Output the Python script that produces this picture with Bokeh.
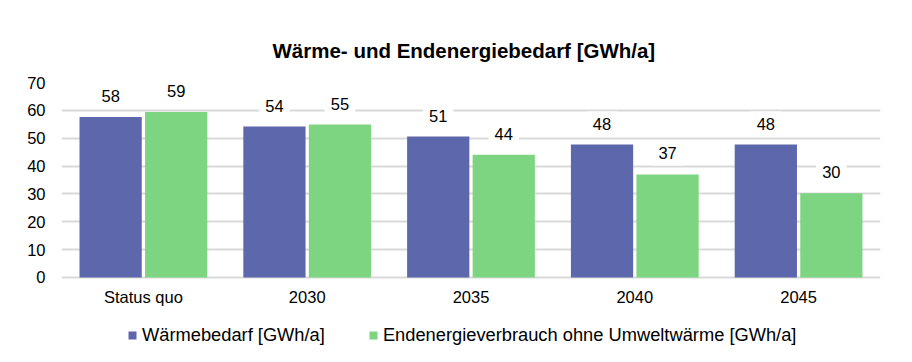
from bokeh.plotting import figure
from bokeh.models import ColumnDataSource, Legend, LegendItem, Range1d, FactorRange, FixedTicker
from bokeh.transform import dodge
from bokeh.core.properties import value
from bokeh.embed import file_html
from bokeh.resources import INLINE

categories = ["Status quo", "2030", "2035", "2040", "2045"]
waerme = [57.6, 54.2, 50.6, 47.7, 47.7]
endenergie = [59.4, 54.9, 44.1, 37.0, 30.2]
series_names = ["Wärmebedarf [GWh/a]", "Endenergieverbrauch ohne Umweltwärme [GWh/a]"]
colors = ["#5C67AC", "#7ED581"]
y_ticks = [0, 10, 20, 30, 40, 50, 60, 70]

FONT = "Liberation Sans"

src = ColumnDataSource(dict(
    cat=categories,
    zero=[0] * len(categories),
    w=waerme,
    e=endenergie,
    wl=[str(round(v)) for v in waerme],
    el=[str(round(v)) for v in endenergie],
))

# frame extends below the value axis so the legend (inside the frame) sits under the category labels
p = figure(width=896, height=346, x_range=FactorRange(*categories), y_range=Range1d(-24.77, 70),
           output_backend="svg", toolbar_location=None,
           min_border_left=61, min_border_right=16, min_border_top=82, min_border_bottom=0)

p.title.text = "Wärme- und Endenergiebedarf [GWh/a]"
p.title.align = "left"
p.title.text_font = FONT
p.title.text_font_size = "20.5px"
p.title.text_font_style = "bold"
p.title.text_color = "black"
p.title.offset = 211
p.title.standoff = 42

r1 = p.vbar(x=dodge("cat", -0.2, range=p.x_range), top="w", width=0.38, source=src,
            color=colors[0], line_color=None)
r2 = p.vbar(x=dodge("cat", 0.2, range=p.x_range), top="e", width=0.38, source=src,
            color=colors[1], line_color=None)

for tcol, ycol, off in [("wl", "w", -0.2), ("el", "e", 0.2)]:
    p.text(x=dodge("cat", off, range=p.x_range), y=ycol, text=tcol, source=src,
           text_align="center", text_baseline="bottom", y_offset=-9,
           text_font=value(FONT), text_font_size="16.5px", text_color="#000000",
           background_fill_color="white", padding=6)

# category labels under the baseline
p.text(x="cat", y="zero", text="cat", source=src, text_align="center", text_baseline="middle",
       y_offset=20, text_font=value(FONT), text_font_size="16.5px", text_color="#000000")

p.outline_line_color = None
p.xgrid.grid_line_color = None
p.ygrid.grid_line_color = "#d9d9d9"
p.ygrid.grid_line_width = 2
p.yaxis.ticker = FixedTicker(ticks=y_ticks)
p.ygrid.ticker = FixedTicker(ticks=y_ticks)
p.yaxis.axis_line_color = None
p.yaxis.major_tick_line_color = None
p.yaxis.minor_tick_line_color = None
p.yaxis.major_label_text_font = FONT
p.yaxis.major_label_text_font_size = "16.5px"
p.yaxis.major_label_text_color = "black"
p.yaxis.major_label_standoff = 10
p.xaxis.visible = False
p.x_range.range_padding = 0
p.x_range.group_padding = 0

legend = Legend(items=[LegendItem(label=series_names[0], renderers=[r1]),
                       LegendItem(label=series_names[1], renderers=[r2])],
                orientation="horizontal", location=(66, 0),
                label_text_font=FONT, label_text_font_size="18.3px", label_text_color="black",
                glyph_width=10, glyph_height=10, spacing=43, label_standoff=5,
                border_line_color=None, background_fill_alpha=0, margin=0, padding=4)
p.add_layout(legend)

open("out.html", "w").write(file_html(p, INLINE))
